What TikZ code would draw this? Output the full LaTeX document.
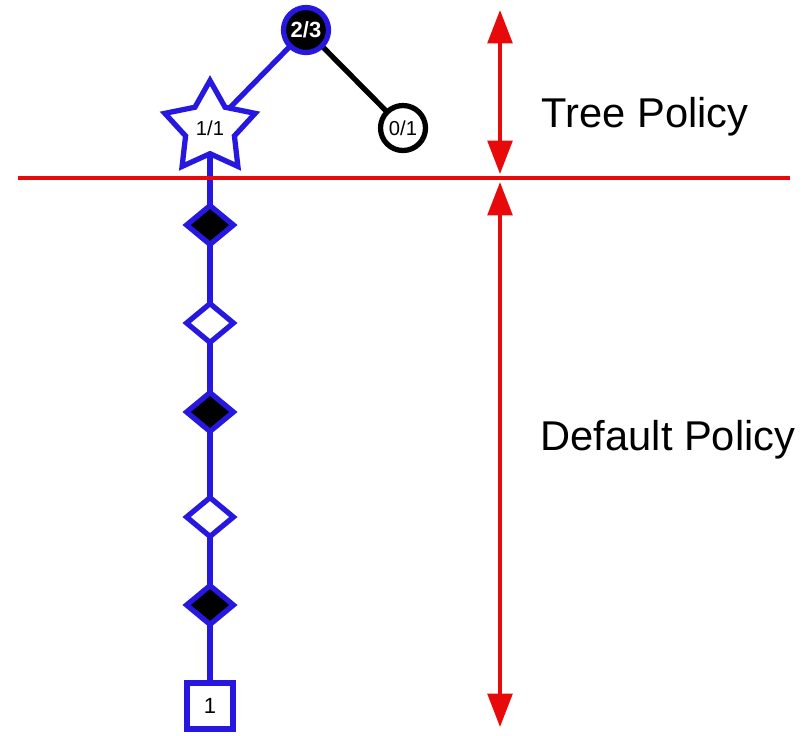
\documentclass[tikz,border=0pt]{standalone}
\usepackage{fontspec}
\setmainfont{Liberation Sans}
\usetikzlibrary{arrows.meta,shapes.geometric,backgrounds}
\definecolor{treeblue}{RGB}{38,24,222}
\definecolor{policyred}{RGB}{232,10,10}

\begin{document}
\begin{tikzpicture}[x=0.02cm,y=-0.02cm,
    blueedge/.style={draw=treeblue,line width=3pt},
    blackedge/.style={draw=black,line width=3pt},
    visited/.style={circle,draw=treeblue,fill=black,text=white,line width=3pt,
        minimum size=0.9cm,inner sep=0pt,font=\bfseries\fontsize{12.5}{12.5}\selectfont},
    unvisited/.style={circle,draw=black,fill=white,line width=3pt,
        minimum size=0.9cm,inner sep=0pt,font=\fontsize{11.5}{11.5}\selectfont},
    newnode/.style={star,star points=5,star point ratio=1.85,draw=treeblue,fill=white,
        line width=3pt,minimum size=1.9cm,inner sep=0pt,font=\fontsize{11.5}{11.5}\selectfont},
    blackmove/.style={diamond,draw=treeblue,fill=black,line width=3pt,
        minimum width=0.98cm,minimum height=0.82cm,inner sep=0pt},
    whitemove/.style={diamond,draw=treeblue,fill=white,line width=3pt,
        minimum width=0.98cm,minimum height=0.82cm,inner sep=0pt},
    result/.style={rectangle,draw=treeblue,fill=white,line width=3pt,
        minimum size=0.92cm,inner sep=0pt,font=\fontsize{12.5}{12.5}\selectfont},
    redline/.style={draw=policyred,line width=2.2pt},
    redarrow/.style={redline,{Triangle[width=14pt,length=19pt]}-{Triangle[width=14pt,length=19pt]}},
    policy/.style={font=\fontsize{23.7}{28}\selectfont}
]
    \useasboundingbox (0,0) rectangle (803,735);

    \draw[redline] (18,178) coordinate (hl) -- (790,178) coordinate (hr);
    \coordinate (ttop) at (500,10);
    \coordinate (tbot) at (500,174);
    \coordinate (dtop) at (500,182);
    \coordinate (dbot) at (500,727);
    \draw[redarrow] (ttop) -- (tbot);
    \draw[redarrow] (dtop) -- (dbot);

    \node[visited] (root) at (306,30) {2/3};
    \node[newnode] (new) at (210,128) {1/1};
    \node[unvisited] (leaf) at (403,128) {0/1};

    \node[blackmove] (m1) at (210,225) {};
    \node[whitemove] (m2) at (210,323) {};
    \node[blackmove] (m3) at (210,412) {};
    \node[whitemove] (m4) at (210,517) {};
    \node[blackmove] (m5) at (210,605) {};
    \node[result] (end) at (210,706) {1};

    \begin{scope}[on background layer]
        \draw[blueedge] (root.center) -- (new.center);
        \draw[blackedge] (root.center) -- (leaf.center);
        \draw[blueedge] (new.center) -- (end.center);
    \end{scope}

    \node[policy] (tree) at (645,117) {Tree Policy};
    \node[policy] (default) at (668,440) {Default Policy};
\end{tikzpicture}
\end{document}
